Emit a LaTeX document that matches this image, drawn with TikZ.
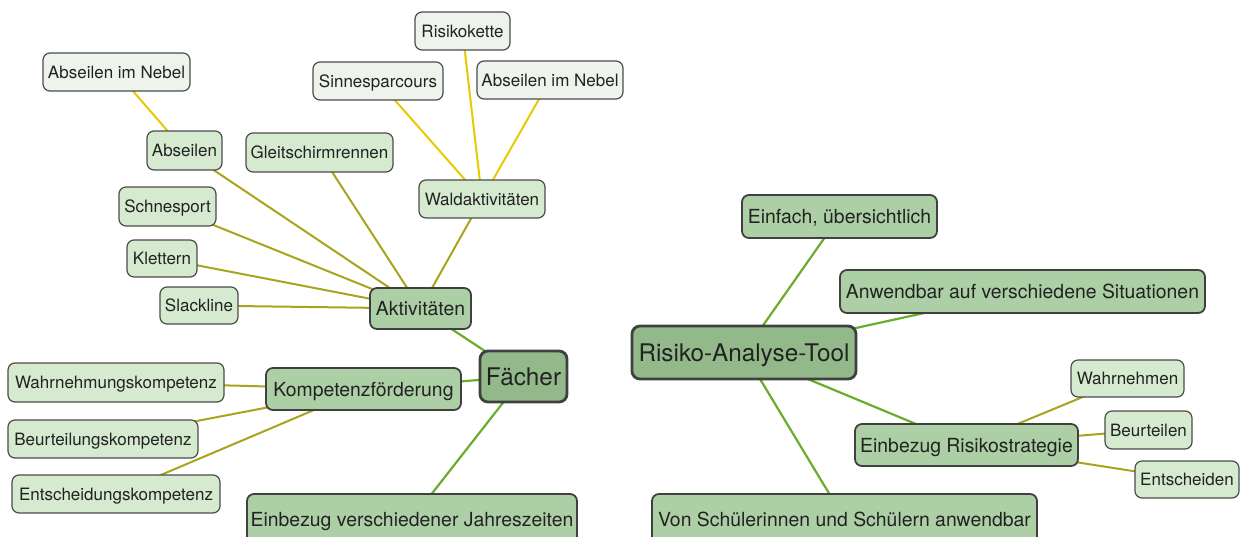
\documentclass[tikz,border=0pt]{standalone}
\usepackage{fontspec}
\setmainfont{TeX Gyre Heros}
\usetikzlibrary{backgrounds}
\definecolor{hubfill}{HTML}{93B98A}
\definecolor{lonefill}{HTML}{ADCFA5}
\definecolor{ltwofill}{HTML}{D5EACF}
\definecolor{lthreefill}{HTML}{EEF3EC}
\definecolor{egreen}{HTML}{6AAD2C}
\definecolor{eolive}{HTML}{A9A31E}
\definecolor{eyellow}{HTML}{E9C900}
\definecolor{txt}{HTML}{222222}
\tikzset{
  base/.style={rectangle, align=center, inner sep=0pt, text=txt, text depth=0pt},
  hub/.style={base, fill=hubfill, draw=black!75, line width=2.8pt, rounded corners=8pt, font=\fontsize{24.3}{28}\selectfont, text height=17.5pt},
  lone/.style={base, fill=lonefill, draw=black!75, line width=1.8pt, rounded corners=7pt, font=\fontsize{19.4}{23}\selectfont, text height=14pt},
  ltwo/.style={base, fill=ltwofill, draw=black!70, line width=1.2pt, rounded corners=7pt, font=\fontsize{17}{20}\selectfont, text height=12.2pt},
  lthree/.style={ltwo, fill=lthreefill},
  eone/.style={draw=egreen, line width=2.2pt},
  etwo/.style={draw=eolive, line width=2pt},
  ethree/.style={draw=eyellow, line width=2pt},
  sz/.style 2 args={minimum width=#1pt, minimum height=#2pt}
}
\begin{document}
\begin{tikzpicture}[x=1pt,y=-1pt]
\useasboundingbox (0,0) rectangle (1242,536);
% left map
\node[hub, sz={87}{51}] (F) at (523.5,376.5) {Fächer};
\node[lone, sz={101}{41}] (A) at (420.5,308.5) {Aktivitäten};
\node[lone, sz={195}{42}] (K) at (363.5,389) {Kompetenzförderung};
\node[lone, sz={330}{50}] (J) at (412,519) {Einbezug verschiedener Jahreszeiten};
\node[ltwo, sz={126}{38}] (W) at (482,199) {Waldaktivitäten};
\node[ltwo, sz={147}{39}] (G) at (319.5,152.5) {Gleitschirmrennen};
\node[ltwo, sz={75}{39}] (Ab) at (184.5,150.5) {Abseilen};
\node[ltwo, sz={97}{39}] (S) at (167.5,206.5) {Schnesport};
\node[ltwo, sz={70}{37}] (Kl) at (162,258.5) {Klettern};
\node[ltwo, sz={78}{37}] (Sl) at (199,305.5) {Slackline};
\node[lthree, sz={147}{38}] (N1) at (116.5,72) {Abseilen im Nebel};
\node[lthree, sz={130}{38}] (Si) at (378,81) {Sinnesparcours};
\node[lthree, sz={95}{38}] (R) at (462.5,31) {Risikokette};
\node[lthree, sz={146}{38}] (N2) at (550,80) {Abseilen im Nebel};
\node[ltwo, sz={216}{39}] (WK) at (116,382.5) {Wahrnehmungskompetenz};
\node[ltwo, sz={190}{38}] (BK) at (103,439) {Beurteilungskompetenz};
\node[ltwo, sz={208}{38}] (EK) at (116,494) {Entscheidungskompetenz};
% right map
\node[hub, sz={224}{53}] (T) at (744,352.5) {Risiko-Analyse-Tool};
\node[lone, sz={195}{43}] (E) at (839.5,216.5) {Einfach, übersichtlich};
\node[lone, sz={365}{43}] (An) at (1022.5,291.5) {Anwendbar auf verschiedene Situationen};
\node[lone, sz={223}{42}] (ER) at (966.5,445) {Einbezug Risikostrategie};
\node[lone, sz={385}{50}] (V) at (844.5,519) {Von Schülerinnen und Schülern anwendbar};
\node[ltwo, sz={113}{37}] (Wa) at (1127.5,378.5) {Wahrnehmen};
\node[ltwo, sz={87}{38}] (Be) at (1148.5,430) {Beurteilen};
\node[ltwo, sz={104}{37}] (En) at (1187,479.5) {Entscheiden};
\begin{scope}[on background layer]
\draw[eone] (F.center) -- (A.center);
\draw[eone] (F.center) -- (K.center);
\draw[eone] (F.center) -- (J.center);
\draw[etwo] (A.center) -- (W.center);
\draw[etwo] (A.center) -- (G.center);
\draw[etwo] (A.center) -- (Ab.center);
\draw[etwo] (A.center) -- (S.center);
\draw[etwo] (A.center) -- (Kl.center);
\draw[etwo] (A.center) -- (Sl.center);
\draw[ethree] (Ab.center) -- (N1.center);
\draw[ethree] (W.center) -- (Si.center);
\draw[ethree] (W.center) -- (R.center);
\draw[ethree] (W.center) -- (N2.center);
\draw[etwo] (K.center) -- (WK.center);
\draw[etwo] (K.center) -- (BK.center);
\draw[etwo] (K.center) -- (EK.center);
\draw[eone] (T.center) -- (E.center);
\draw[eone] (T.center) -- (An.center);
\draw[eone] (T.center) -- (ER.center);
\draw[eone] (T.center) -- (V.center);
\draw[etwo] (ER.center) -- (Wa.center);
\draw[etwo] (ER.center) -- (Be.center);
\draw[etwo] (ER.center) -- (En.center);
\end{scope}
\end{tikzpicture}
\end{document}
